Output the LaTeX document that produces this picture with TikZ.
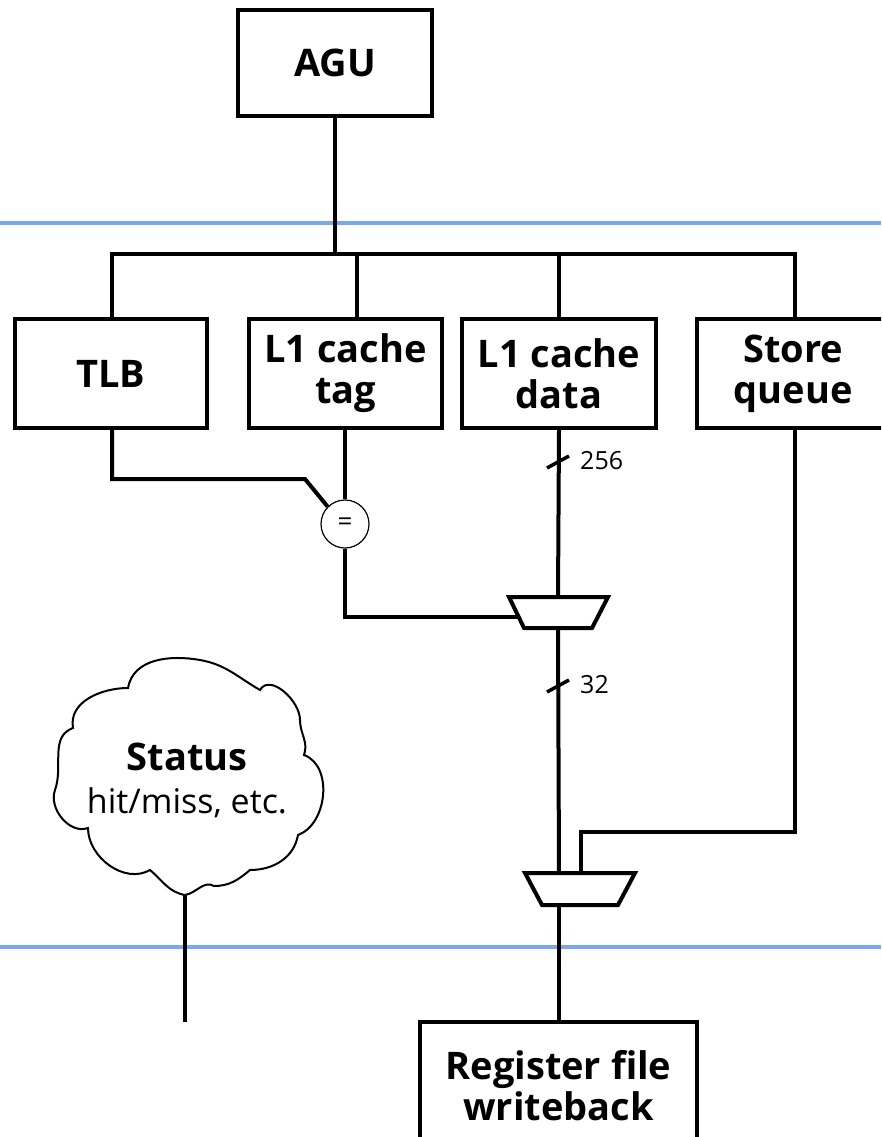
\documentclass[tikz,border=0pt]{standalone}
\usepackage{fontspec}
\setmainfont{Open Sans}
\usetikzlibrary{calc}
\definecolor{stageblue}{HTML}{78A7F5}
\tikzset{
  wire/.style={line width=4pt, line join=miter},
  blk/.style={draw, line width=4pt, rectangle, align=center, inner sep=0pt,
    font=\fontsize{38}{41}\selectfont\bfseries},
  stage/.style={stageblue, line width=3.5pt},
  cmp/.style={draw, circle, line width=1.2pt, minimum size=48pt, inner sep=0pt,
    fill=white, font=\fontsize{26}{26}\selectfont},
  muxshape/.style={draw, line width=4pt, fill=white, line join=miter},
  buswidth/.style={font=\fontsize{25}{26}\selectfont, anchor=west, inner sep=0pt},
  cloudline/.style={line width=2pt, fill=white},
}
\begin{document}
\begin{tikzpicture}[x=1pt,y=-1pt]
\useasboundingbox (0,0) rectangle (881,1137);
\clip (0,0) rectangle (881,1137);

% pipeline stage boundaries
\draw[stage] (0,223) -- (881,223);
\draw[stage] (0,947) -- (881,947);

% blocks
\node[blk, minimum width=194pt, minimum height=106pt] (agu) at (335,63) {AGU};
\node[blk, minimum width=192pt, minimum height=109pt] (tlb) at (111,373.5) {TLB};
\node[blk, minimum width=193pt, minimum height=109pt] (tag) at (345.5,373.5) {L1 cache\\tag};
\node[blk, minimum width=194pt, minimum height=109pt] (data) at (559,373.5) {L1 cache\\data};
\node[blk, minimum width=192pt, minimum height=109pt] (sq) at (793,373.5) {Store\\queue};
\node[blk, minimum width=277pt, minimum height=128pt] (rf) at (558.5,1086) {Register file\\writeback};

% address bus
\coordinate (busL) at (112,254);
\coordinate (busR) at (795,254);
\draw[wire] (agu.south) -- (335,254);
\draw[wire] (tlb.north -| busL) |- (busR) -- (sq.north -| busR);
\draw[wire] (tag.north -| 357,0) -- (357,254);
\draw[wire] (data.north) -- (data.north |- busL);

% comparator
\node[cmp] (eq) at (345,524) {=};
\coordinate (tlbbend) at (305,479);
\draw[wire] (tlb.south -| busL) |- (tlbbend) -- (eq.135);
\draw[wire] (tag.south -| eq) -- (eq.north);

% mux 1
\coordinate (m1a) at (509,597);
\coordinate (m1b) at (608,597);
\coordinate (m1c) at (592,628);
\coordinate (m1d) at (524,628);
\coordinate (m1sel) at (518,617);
\coordinate (m1in) at (558,597);
\coordinate (m1out) at (558,628);
\draw[wire] (eq.south) |- (m1sel);
\draw[wire] (data.south) -- (m1in);
\draw[muxshape] (m1a) -- (m1b) -- (m1c) -- (m1d) -- cycle;

% mux 2
\coordinate (m2a) at (525,873);
\coordinate (m2b) at (635,873);
\coordinate (m2c) at (618,905);
\coordinate (m2d) at (542,905);
\coordinate (m2inA) at (559,873);
\coordinate (m2inB) at (581,873);
\coordinate (m2out) at (559,905);
\draw[wire] (m1out) -- (m2inA);
\draw[wire] (sq.south -| busR) |- (581,832) -- (m2inB);
\draw[muxshape] (m2a) -- (m2b) -- (m2c) -- (m2d) -- cycle;
\draw[wire] (m2out) -- (rf.north -| m2out);

% bus width marks
\coordinate (bw1) at (558,462);
\coordinate (bw2) at (558,686);
\draw[line width=3.5pt] ($(bw1)+(-11,6)$) -- ($(bw1)+(11,-6)$);
\draw[line width=3.5pt] ($(bw2)+(-11,6)$) -- ($(bw2)+(11,-6)$);
\node[buswidth] (w256) at (580,461) {256};
\node[buswidth] (w32) at (580,685) {32};

% status cloud
\draw[cloudline] (185,895)
  to[out=170,in=-40] (150,870)
  to[out=-150,in=-90] (88,828)
  to[out=-160,in=-110] (55,790)
  to[out=70,in=-160] (73,728)
  to[out=100,in=180] (128,688)
  to[out=80,in=170] (200,660)
  to[out=-10,in=150] (260,690)
  to[out=60,in=90] (300,720)
  to[out=-90,in=70] (304,755)
  to[out=-20,in=20] (298,835)
  to[out=-100,in=0] (250,870)
  to[out=-140,in=0] (214,886)
  to[out=150,in=10] cycle;
\node[align=center, inner sep=0pt, font=\fontsize{34}{43}\selectfont] (status) at (187,780)
  {{\fontsize{38}{43}\selectfont\bfseries Status}\\hit/miss, etc.};
\coordinate (statusend) at (185,1022);
\draw[wire] (185,895) -- (statusend);
\end{tikzpicture}
\end{document}
